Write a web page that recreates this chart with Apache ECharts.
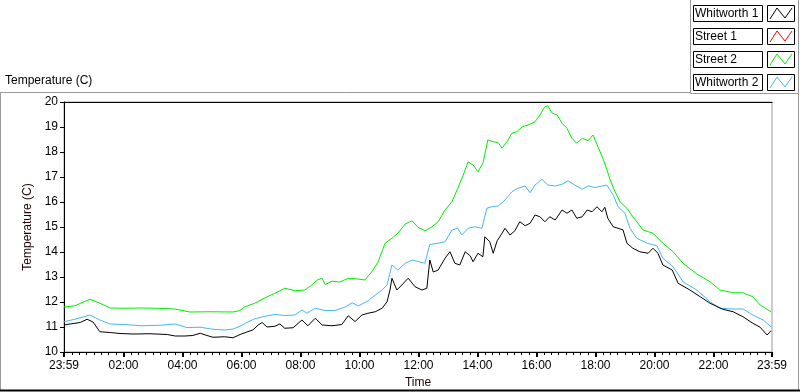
<!DOCTYPE html>
<html>
<head>
<meta charset="utf-8">
<script src="https://cdn.jsdelivr.net/npm/echarts@6/dist/echarts.min.js"></script>
<style>
html,body{margin:0;padding:0;background:#fff;}
#chart{width:800px;height:392px;}
</style>
</head>
<body>
<div id="chart"></div>
<script>
// ---- data (time in minutes since midnight; -1 = 23:59 of previous day) ----
const legendNames = ['Whitworth 1', 'Street 1', 'Street 2', 'Whitworth 2'];
const seriesColors = ['#000000', '#ff0000', '#00ee00', '#45b8f0'];

const majorTicks = [-1, 120, 240, 360, 480, 600, 720, 840, 960, 1080, 1200, 1320, 1439];
const majorTickLabels = ['23:59', '02:00', '04:00', '06:00', '08:00', '10:00', '12:00', '14:00', '16:00', '18:00', '20:00', '22:00', '23:59'];
const minorTicks = [15,30,45,60,75,90,105,135,150,165,180,195,210,225,255,270,285,300,315,330,345,375,390,405,420,435,450,465,495,510,525,540,555,570,585,615,630,645,660,675,690,705,735,750,765,780,795,810,825,855,870,885,900,915,930,945,975,990,1005,1020,1035,1050,1065,1095,1110,1125,1140,1155,1170,1185,1215,1230,1245,1260,1275,1290,1305,1335,1350,1365,1380,1395,1410,1425];
const yTicks = { min: 10, max: 20, step: 1 };

const whitworth1 = [
[-1,11.08],[11,11.12],[32,11.18],[46,11.31],[58,11.2],[72,10.81],[93,10.78],[113,10.74],[139,10.72],[174,10.73],
[209,10.70],[225,10.64],[245,10.64],[261,10.66],[276,10.75],[290,10.66],[302,10.59],[326,10.61],[343,10.57],[357,10.70],
[371,10.80],[383,10.88],[394,11.08],[402,11.18],[412,11.0],[428,11.03],[438,11.12],[448,10.95],[465,10.97],[483,11.28],
[495,11.05],[510,11.35],[524,11.08],[544,11.05],[564,11.10],[577,11.45],[591,11.22],[605,11.48],[617,11.55],[632,11.61],
[646,11.75],[656,12.01],[662,12.48],[666,12.95],[676,12.48],[686,12.68],[699,12.95],[713,12.61],[727,12.48],[737,12.55],
[743,13.68],[750,13.20],[760,13.28],[774,13.75],[784,14.01],[794,13.55],[804,13.48],[815,14.01],[825,13.85],[831,13.61],
[841,13.95],[851,13.81],[855,14.61],[865,14.41],[872,13.95],[880,14.45],[890,14.75],[896,14.95],[906,14.68],[916,14.85],
[926,15.21],[937,15.05],[947,15.15],[957,15.48],[967,15.41],[977,15.21],[987,15.41],[998,15.28],[1012,15.68],[1022,15.55],
[1032,15.68],[1042,15.35],[1053,15.41],[1063,15.68],[1073,15.61],[1083,15.81],[1093,15.61],[1099,15.79],[1105,15.35],[1116,15.01],
[1126,14.95],[1136,14.88],[1144,14.35],[1156,14.15],[1170,14.01],[1187,13.95],[1197,14.15],[1207,13.95],[1217,13.48],[1236,13.28],
[1248,12.75],[1272,12.48],[1293,12.21],[1313,11.95],[1339,11.71],[1360,11.61],[1380,11.41],[1400,11.15],[1415,10.99],[1429,10.68],
[1437,10.85]
];

const street1 = [];

const street2 = [
[-1,11.80],[21,11.85],[52,12.11],[72,11.95],[93,11.76],[123,11.75],[154,11.76],[188,11.75],[225,11.72],[255,11.60],
[296,11.61],[343,11.60],[357,11.66],[367,11.81],[387,11.95],[408,12.17],[428,12.35],[448,12.55],[469,12.45],[489,12.48],
[503,12.68],[514,12.88],[524,12.95],[530,12.70],[544,12.83],[560,12.80],[577,12.95],[597,12.92],[611,12.88],[625,13.21],
[638,13.61],[652,14.35],[666,14.55],[678,14.75],[693,15.12],[707,15.25],[719,14.99],[733,14.85],[747,15.00],[760,15.21],
[774,15.68],[788,16.01],[800,16.55],[811,17.08],[821,17.61],[831,17.48],[841,17.21],[851,17.55],[861,18.48],[872,18.41],
[882,18.38],[890,18.15],[900,18.41],[910,18.75],[920,18.81],[931,19.01],[943,19.08],[957,19.21],[967,19.48],[977,19.81],
[983,19.85],[992,19.55],[1002,19.48],[1012,19.15],[1022,18.95],[1032,18.55],[1042,18.35],[1053,18.55],[1065,18.45],[1075,18.68],
[1085,18.21],[1095,17.75],[1103,17.30],[1110,16.88],[1120,16.40],[1130,16.01],[1144,15.75],[1156,15.41],[1177,14.88],[1197,14.75],
[1217,14.35],[1238,14.01],[1258,13.55],[1286,13.12],[1313,12.81],[1333,12.48],[1360,12.37],[1380,12.37],[1400,12.21],[1415,11.88],
[1437,11.61]
];

const whitworth2 = [
[-1,11.21],[21,11.31],[52,11.48],[72,11.28],[93,11.12],[123,11.10],[154,11.05],[194,11.07],[225,11.12],[249,10.98],
[276,10.99],[302,10.91],[326,10.88],[343,10.92],[357,11.03],[373,11.20],[387,11.33],[408,11.43],[428,11.50],[448,11.46],
[469,11.48],[483,11.68],[493,11.55],[510,11.75],[530,11.66],[550,11.66],[571,11.80],[585,11.97],[597,11.84],[617,12.04],
[632,12.28],[646,12.48],[656,12.68],[666,13.48],[678,13.28],[693,13.55],[707,13.68],[719,13.62],[733,13.55],[743,14.30],
[760,14.35],[774,14.41],[788,14.88],[800,14.95],[808,14.68],[821,14.95],[835,15.01],[849,14.95],[859,15.75],[869,15.81],
[882,15.84],[896,16.08],[910,16.41],[922,16.55],[937,16.64],[947,16.37],[957,16.68],[971,16.91],[983,16.68],[998,16.64],
[1012,16.71],[1024,16.85],[1038,16.68],[1053,16.51],[1065,16.64],[1079,16.58],[1093,16.64],[1103,16.68],[1116,16.28],[1126,15.81],
[1140,15.55],[1150,14.95],[1164,14.55],[1185,14.35],[1205,14.25],[1217,13.75],[1238,13.41],[1258,12.81],[1286,12.48],[1313,12.01],
[1333,11.75],[1360,11.72],[1380,11.72],[1400,11.48],[1421,11.28],[1437,11.01]
];

const seriesData = [whitworth1, street1, street2, whitworth2];

// ---- chart ----
const FONT = 'Liberation Sans, Arial, sans-serif';
const chart = echarts.init(document.getElementById('chart'), null, { renderer: 'canvas' });

const legendGraphics = [];
legendNames.forEach(function (name, i) {
  const top = 5 + 23 * i;
  legendGraphics.push({
    type: 'rect', silent: true,
    shape: { x: 693.5, y: top + 0.5, width: 69, height: 16 },
    style: { fill: '#fff', stroke: '#000', lineWidth: 1 }
  });
  legendGraphics.push({
    type: 'text', silent: true, x: 695, y: top + 9,
    style: { text: name, fill: '#000', font: '12px ' + FONT, verticalAlign: 'middle', align: 'left' }
  });
  legendGraphics.push({
    type: 'rect', silent: true,
    shape: { x: 767.5, y: top + 0.5, width: 27, height: 16 },
    style: { fill: '#fff', stroke: '#000', lineWidth: 1 }
  });
  legendGraphics.push({
    type: 'polyline', silent: true,
    shape: { points: [[770, top + 14], [777, top + 3], [785, top + 13], [792, top + 3]] },
    style: { stroke: seriesColors[i], lineWidth: 1, fill: null }
  });
});

const option = {
  animation: false,
  backgroundColor: '#ffffff',
  textStyle: { fontFamily: FONT },
  grid: {
    left: 64, right: 28, top: 102, bottom: 40,
    show: true, borderColor: '#9a9a9a', borderWidth: 1, backgroundColor: '#ffffff',
    outerBoundsMode: 'none'
  },
  xAxis: [
    {
      type: 'value', min: -1, max: 1439, position: 'bottom',
      name: 'Time', nameLocation: 'middle', nameGap: 25,
      nameTextStyle: { color: '#200000', fontSize: 12, fontFamily: FONT },
      axisLine: { show: true, onZero: false, lineStyle: { color: '#000', width: 1 } },
      axisTick: { show: true, customValues: majorTicks, length: 5, lineStyle: { color: '#000', width: 2 } },
      axisLabel: {
        show: true, customValues: majorTicks, margin: 8, color: '#000', fontSize: 12, fontFamily: FONT,
        formatter: function (v) { return majorTickLabels[majorTicks.indexOf(v)]; }
      },
      splitLine: { show: false }
    },
    {
      type: 'value', min: -1, max: 1439, position: 'bottom',
      axisLine: { show: false },
      axisTick: { show: true, customValues: minorTicks, length: 3, lineStyle: { color: '#000', width: 1 } },
      axisLabel: { show: false },
      splitLine: { show: false }
    },
    {
      type: 'value', min: -1, max: 1439, position: 'top',
      axisLine: { show: true, onZero: false, lineStyle: { color: '#000', width: 1 } },
      axisTick: { show: false }, axisLabel: { show: false }, splitLine: { show: false }
    }
  ],
  yAxis: {
    type: 'value', min: yTicks.min, max: yTicks.max, interval: yTicks.step,
    name: 'Temperature (C)', nameLocation: 'middle', nameGap: 26, nameRotate: 90,
    nameTextStyle: { color: '#200000', fontSize: 12, fontFamily: FONT },
    axisLine: { show: true, onZero: false, lineStyle: { color: '#000', width: 1 } },
    axisTick: { show: true, length: 4, lineStyle: { color: '#000', width: 1 } },
    axisLabel: { color: '#000', fontSize: 12, margin: 6, fontFamily: FONT },
    splitLine: { show: false }
  },
  graphic: [
    { type: 'polyline', silent: true, shape: { points: [[0.5, 391], [0.5, 92.5], [690.5, 92.5]] }, style: { stroke: '#9a9a9a', lineWidth: 1, fill: null } },
    { type: 'polyline', silent: true, shape: { points: [[690.5, 0], [690.5, 93.5], [798.5, 93.5], [798.5, 0]] }, style: { stroke: '#9a9a9a', lineWidth: 1, fill: null } },
    { type: 'line', silent: true, shape: { x1: 798.5, y1: 93, x2: 798.5, y2: 391 }, style: { stroke: '#9a9a9a', lineWidth: 1 } },
    { type: 'line', silent: true, shape: { x1: 0, y1: 390.5, x2: 800, y2: 390.5 }, style: { stroke: '#000', lineWidth: 2 } },
    { type: 'text', silent: true, x: 5, y: 81, style: { text: 'Temperature (C)', fill: '#000', font: '12px ' + FONT, verticalAlign: 'middle' } }
  ].concat(legendGraphics),
  series: legendNames.map(function (name, i) {
    return {
      name: name, type: 'line', xAxisIndex: 0, yAxisIndex: 0,
      data: seriesData[i], showSymbol: false, symbol: 'none',
      lineStyle: { color: seriesColors[i], width: 1 },
      itemStyle: { color: seriesColors[i] },
      clip: true, z: 2 + (3 - i)
    };
  })
};
chart.setOption(option);
</script>
</body>
</html>
